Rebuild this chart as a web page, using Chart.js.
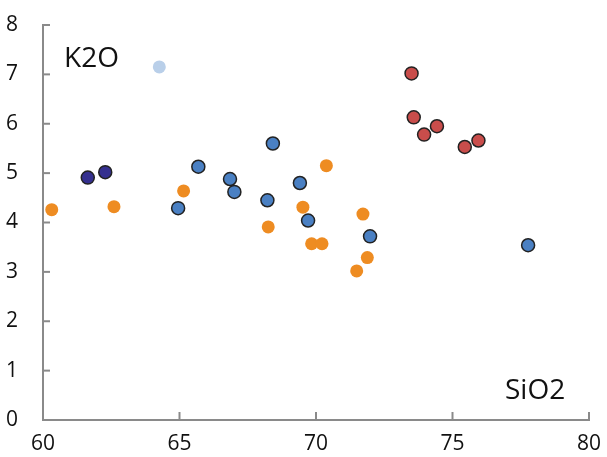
<!DOCTYPE html>
<html>
<head>
<meta charset="utf-8">
<script src="https://cdn.jsdelivr.net/npm/chart.js@4/dist/chart.umd.min.js"></script>
<style>
  html, body { margin: 0; padding: 0; background: #fff; }
  #wrap { width: 607px; height: 457px; }
</style>
</head>
<body>
<div id="wrap"><canvas id="grafica"></canvas></div>
<script>
const xTicks = [60, 65, 70, 75, 80];
const yTicks = [0, 1, 2, 3, 4, 5, 6, 7, 8];

const darkSiO2 = [61.64, 62.28];
const darkK2O = [4.91, 5.02];

const lightSiO2 = [64.26];
const lightK2O = [7.15];

const blueSiO2 = [64.95, 65.69, 66.85, 67.01, 68.22, 68.42, 69.41, 69.71, 71.98, 77.77];
const blueK2O = [4.29, 5.13, 4.88, 4.62, 4.45, 5.60, 4.80, 4.04, 3.72, 3.54];

const redSiO2 = [73.50, 73.58, 74.43, 73.96, 75.45, 75.95];
const redK2O = [7.02, 6.13, 5.95, 5.78, 5.53, 5.66];

const orangeSiO2 = [60.32, 62.60, 65.15, 68.25, 69.52, 70.38, 71.72, 69.84, 70.22, 71.88, 71.49];
const orangeK2O = [4.26, 4.32, 4.64, 3.91, 4.31, 5.15, 4.17, 3.57, 3.57, 3.29, 3.02];

const puntos = (xs, ys) => xs.map((x, i) => ({ x, y: ys[i] }));

const fuente = "'Open Sans', 'DejaVu Sans', sans-serif";
const gris = "#8a8a8a";

// marcas hacia dentro y rotulos de ejes
const extras = {
    id: "extras",
    afterDraw(chart) {
        const { ctx, chartArea, scales } = chart;
        ctx.save();
        ctx.strokeStyle = gris;
        ctx.lineWidth = 2;
        xTicks.forEach((v) => {
            const px = scales.x.getPixelForValue(v);
            ctx.beginPath();
            ctx.moveTo(px, chartArea.bottom);
            ctx.lineTo(px, chartArea.bottom - 8);
            ctx.stroke();
        });
        yTicks.forEach((v) => {
            const py = scales.y.getPixelForValue(v);
            ctx.beginPath();
            ctx.moveTo(chartArea.left, py);
            ctx.lineTo(chartArea.left + 7, py);
            ctx.stroke();
        });
        ctx.fillStyle = "#111";
        ctx.font = "28px " + fuente;
        ctx.textBaseline = "alphabetic";
        ctx.textAlign = "left";
        ctx.fillText("K2O", 64, 67);
        ctx.fillText("SiO2", 505, 399);
        ctx.restore();
    },
};

const serie = (data, color, borde) => ({
    data,
    backgroundColor: color,
    borderColor: borde ? "#222" : color,
    borderWidth: borde ? 1.5 : 0,
    pointRadius: 6.5,
    pointHoverRadius: 6.5,
});

new Chart(document.getElementById("grafica"), {
    type: "scatter",
    data: {
        datasets: [
            serie(puntos(orangeSiO2, orangeK2O), "#ee8c22", false),
            serie(puntos(lightSiO2, lightK2O), "#b9cfe9", false),
            serie(puntos(darkSiO2, darkK2O), "#35308f", true),
            serie(puntos(blueSiO2, blueK2O), "#4a80c3", true),
            serie(puntos(redSiO2, redK2O), "#c94d4b", true),
        ],
    },
    options: {
        responsive: true,
        maintainAspectRatio: false,
        animation: false,
        layout: { padding: { left: 0, right: 18, top: 25, bottom: 0 } },
        scales: {
            x: {
                type: "linear",
                min: 60,
                max: 80,
                afterBuildTicks: (s) => { s.ticks = xTicks.map((v) => ({ value: v })); },
                afterFit: (s) => { s.height = 37; s.paddingLeft = 0; s.paddingRight = 0; },
                grid: { display: false },
                border: { display: true, color: gris, width: 2 },
                ticks: { color: "#111", font: { size: 21, family: fuente }, padding: 3 },
            },
            y: {
                type: "linear",
                min: 0,
                max: 8,
                afterBuildTicks: (s) => { s.ticks = yTicks.map((v) => ({ value: v })); },
                afterFit: (s) => { s.width = 43; s.paddingTop = 0; s.paddingBottom = 0; },
                grid: { display: false },
                border: { display: true, color: gris, width: 2 },
                ticks: { color: "#111", font: { size: 21, family: fuente }, padding: 17 },
            },
        },
        plugins: { legend: { display: false }, tooltip: { enabled: false } },
    },
    plugins: [extras],
});
</script>
</body>
</html>
